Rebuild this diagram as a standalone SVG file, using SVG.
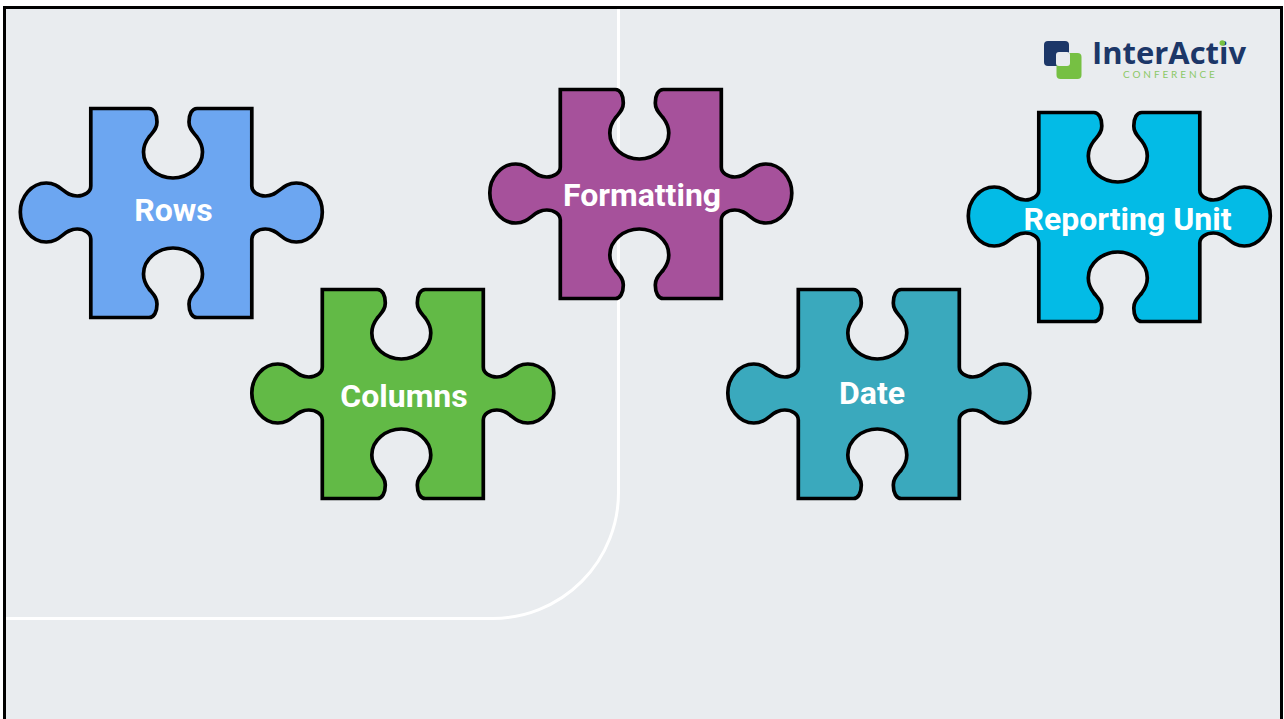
<svg xmlns="http://www.w3.org/2000/svg" width="1284" height="719" viewBox="0 0 1284 719">
<style>
.piece{stroke:#000;stroke-width:3.700;stroke-linejoin:miter}
.label{font-family:Roboto,"Liberation Sans",sans-serif;font-weight:700;font-size:32px;fill:#fff;text-anchor:middle}
</style>
<defs>
<path id="p" d="M-80.500,-104.500 L-25.500,-104.500 C-20.500,-104.500 -17.500,-99 -17.500,-91 C-17.500,-84 -21.500,-81 -25.500,-76 C-28.500,-72 -31,-67 -31,-61 C-31,-46 -16.500,-35 -1.500,-35 C13.500,-35 28,-46 28,-61 C28,-67 25.500,-72 22.500,-76 C18.500,-81 14.500,-84 14.500,-91 C14.500,-99 17.500,-104.500 22.500,-104.500 L80.500,-104.500 L80.500,-27 C80.500,-21 87,-17 94,-17 C108,-17 110,-30 125,-30 C140,-30 151,-16 151,-1 C151,14 140,29 125,29 C110,29 108,16 94,16 C87,16 80.500,20 80.500,26 L80.500,104.500 L22.500,104.500 C17.500,104.500 14.500,99 14.500,91 C14.500,84 18.500,81 22.500,76 C25.500,72 28,67 28,61 C28,46 13.500,35 -1.500,35 C-16.500,35 -31,46 -31,61 C-31,67 -28.500,72 -25.500,76 C-21.500,81 -17.500,84 -17.500,91 C-17.500,99 -20.500,104.500 -25.500,104.500 L-80.500,104.500 L-80.500,26 C-80.500,20 -87,16 -94,16 C-108,16 -110,29 -125,29 C-140,29 -151,14 -151,-1 C-151,-16 -140,-30 -125,-30 C-110,-30 -108,-17 -94,-17 C-87,-17 -80.500,-21 -80.500,-27 Z"/>
<path id="q" d="M-80.500,-104.500 L-22.300,-104.500 C-17.300,-104.500 -14.300,-99 -14.300,-91 C-14.300,-84 -18.300,-81 -22.300,-76 C-25.300,-72 -27.800,-67 -27.800,-61 C-27.800,-46 -13.300,-35 1.700,-35 C16.700,-35 31.200,-46 31.200,-61 C31.200,-67 28.700,-72 25.700,-76 C21.700,-81 17.700,-84 17.700,-91 C17.700,-99 20.700,-104.500 25.700,-104.500 L80.500,-104.500 L80.500,-27 C80.500,-21 87,-17 94,-17 C108,-17 110,-30 125,-30 C140,-30 151,-16 151,-1 C151,14 140,29 125,29 C110,29 108,16 94,16 C87,16 80.500,20 80.500,26 L80.500,104.500 L25.700,104.500 C20.700,104.500 17.700,99 17.700,91 C17.700,84 21.700,81 25.700,76 C28.700,72 31.200,67 31.200,61 C31.200,46 16.700,35 1.700,35 C-13.300,35 -27.800,46 -27.800,61 C-27.800,67 -25.300,72 -22.300,76 C-18.300,81 -14.300,84 -14.300,91 C-14.300,99 -17.300,104.500 -22.300,104.500 L-80.500,104.500 L-80.500,26 C-80.500,20 -87,16 -94,16 C-108,16 -110,29 -125,29 C-140,29 -151,14 -151,-1 C-151,-16 -140,-30 -125,-30 C-110,-30 -108,-17 -94,-17 C-87,-17 -80.500,-21 -80.500,-27 Z"/>
</defs>
<rect x="0" y="0" width="1284" height="719" fill="#fff"/>
<rect x="4.500" y="7.500" width="1277" height="720" fill="#e9ecef" stroke="#000" stroke-width="3"/>
<path d="M618.500,9 V492 A126,126 0 0 1 492.500,618.500 H6" fill="none" stroke="#fff" stroke-width="3"/>
<g id="logo">
<rect x="1044" y="41" width="25" height="25" rx="4" fill="#1c3768"/>
<rect x="1056.500" y="53" width="25" height="26" rx="4" fill="#76c043"/>
<rect x="1056" y="52" width="14" height="14" rx="3" fill="#e9ecef"/>
<text x="1092" y="63.500" font-family="'Open Sans',sans-serif" font-weight="700" font-size="30" fill="#1c3768" textLength="154" lengthAdjust="spacingAndGlyphs">InterActiv</text>
<circle cx="1222.300" cy="43" r="2.800" fill="#76c043"/>
<text x="1123" y="78" font-family="Lato,sans-serif" font-size="10" letter-spacing="2.900" fill="#8cc866">CONFERENCE</text>
</g>
<g id="rows"><use href="#q" x="171.300" y="213" class="piece" fill="#6ca6f1"/><text class="label" x="173.500" y="221">Rows</text></g>
<g id="columns"><use href="#p" x="402.800" y="394" class="piece" fill="#62ba46"/><text class="label" x="404" y="407">Columns</text></g>
<g id="formatting"><use href="#p" x="640.800" y="194" class="piece" fill="#a6519b"/><text class="label" x="642" y="206">Formatting</text></g>
<g id="date"><use href="#p" x="878.800" y="394" class="piece" fill="#3aa9bd"/><text class="label" x="872" y="404">Date</text></g>
<g id="reporting-unit"><use href="#p" x="1119.300" y="217" class="piece" fill="#03bbe6"/><text class="label" x="1127.500" y="230">Reporting Unit</text></g>
<g id="connectors"></g>
</svg>
